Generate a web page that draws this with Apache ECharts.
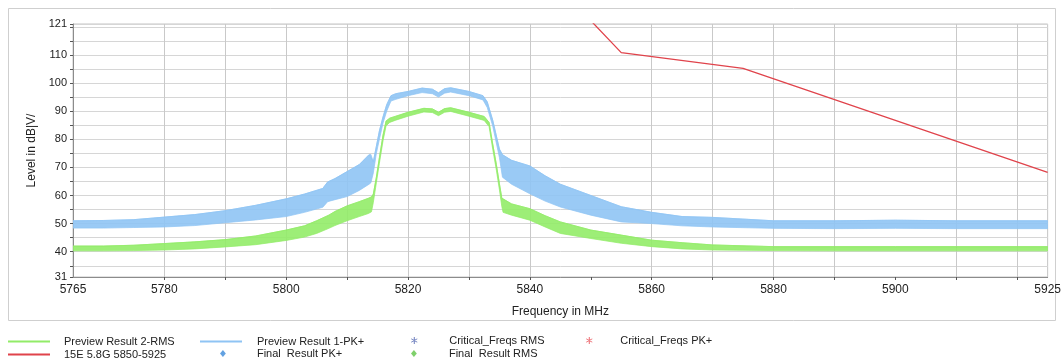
<!DOCTYPE html>
<html><head><meta charset="utf-8">
<script src="https://cdn.jsdelivr.net/npm/echarts@6/dist/echarts.min.js"></script>
<style>html,body{margin:0;padding:0;background:#fff}#c{width:1064px;height:363px}</style>
</head><body><div id="c"></div>
<script>
// Preview Result 1-PK+ : envelope (lower / upper)
const pkFreq = [5765,5770,5775,5780,5785,5790,5795,5800,5803,5806,5806.8,5808,5810,5812,5813.6,5813.9,5814.3,5814.8,5815.3,5815.9,5816.5,5817.2,5818,5820,5822.3,5824,5825,5826,5827,5830,5832.3,5833,5833.9,5835,5835.5,5837,5840,5842.5,5845,5850,5855,5860,5865,5870,5880,5890,5900,5910,5925];
const pkLow  = [48.4,48.4,48.6,48.8,49.3,50.3,51.3,52.5,54.0,55.8,57.8,58.5,59.6,61.8,64.0,64.5,68.0,75.0,80.0,85.8,90.0,93.6,94.2,95.5,96.6,96.2,95.0,96.4,96.8,95.5,94.0,91.3,84.7,73.5,66.5,64.0,60.6,58.0,55.9,53.0,50.6,50.0,49.2,48.8,48.3,48.2,48.3,48.2,48.2];
const pkHigh = [51.0,51.1,51.4,52.3,53.2,54.6,56.5,58.8,60.5,62.5,64.8,66.0,68.5,71.0,74.5,74.6,72.0,77.5,83.0,88.0,92.3,95.5,96.2,97.0,98.2,97.8,96.5,98.0,98.3,97.0,95.5,93.3,86.8,76.5,74.5,72.5,70.5,67.0,64.0,60.0,56.0,54.0,52.5,52.2,51.0,51.0,51.2,51.0,51.0];
// Preview Result 2-RMS : envelope (lower / upper)
const rmsFreq = [5765,5770,5775,5780,5785,5790,5795,5800,5803,5805,5807,5808,5810,5812,5813.5,5814.0,5814.3,5814.8,5815.3,5815.9,5816.4,5817,5818,5820,5822.6,5824,5825,5826,5827,5830,5832.5,5833.3,5833.9,5834.5,5835,5835.4,5835.6,5837,5840,5842.5,5845,5850,5855,5860,5865,5870,5880,5890,5900,5910,5925];
const rmsLow  = [40.3,40.3,40.4,40.6,41.0,41.7,42.5,44.0,45.2,46.5,48.3,49.3,51.0,52.5,53.6,54.2,57.5,64.5,71.5,79.5,84.8,86.0,86.8,88.2,89.7,89.5,88.4,89.6,89.9,88.2,86.7,84.5,76.5,69.0,62.0,56.0,54.0,53.0,51.2,48.8,46.5,44.7,43.0,41.8,41.0,40.6,40.4,40.3,40.3,40.3,40.3];
const rmsHigh = [42.0,42.0,42.3,42.9,43.5,44.3,45.6,47.7,49.2,51.0,53.0,54.3,56.3,57.8,59.0,59.5,60.5,66.5,73.5,81.5,86.5,87.5,88.2,89.6,91.0,90.8,89.6,90.9,91.2,89.6,88.1,86.0,78.3,71.0,64.2,59.0,58.8,57.0,55.3,52.8,50.6,47.7,45.9,44.1,43.2,42.4,41.8,41.8,41.8,41.8,41.8];
// Limit line 15E 5.8G 5850-5925
const limitFreq  = [5850,5855,5875,5925];
const limitLevel = [122.2,110.8,105.2,68.2];
// Axis ticks / labels
const xTickValues  = [5780,5790,5800,5810,5820,5830,5840,5850,5860,5870,5880,5890,5900,5910,5920];
const xLabelValues = [5765,5780,5800,5820,5840,5860,5880,5900,5925];
const yTickValues  = [31,35,40,45,50,55,60,65,70,75,80,85,90,95,100,105,110,115,120,121];
const yLabelValues = [31,40,50,60,70,80,90,100,110,121];

const FONT = 'Liberation Sans, Arial, sans-serif';
const GREEN = '#92ec68', BLUE = '#8fc4f4', RED = '#e0434b';

function band(name, f, lo, hi, color) {
  return {
    type: 'custom', name: name, coordinateSystem: 'cartesian2d', silent: true, clip: true, z: 2,
    color: color, itemStyle: { color: color },
    data: f.map((v, i) => [v, lo[i], hi[i]]),
    encode: { x: 0, y: [1, 2] },
    renderItem: function (params, api) {
      if (params.dataIndexInside !== 0) return null;
      const n = params.dataInsideLength, pts = [];
      for (let i = 0; i < n; i++) pts.push(api.coord([api.value(0, i), api.value(2, i)]));
      for (let i = n - 1; i >= 0; i--) pts.push(api.coord([api.value(0, i), api.value(1, i)]));
      return { type: 'polygon', shape: { points: pts }, style: { fill: color, stroke: color, lineWidth: 0.8, opacity: 0.9 } };
    }
  };
}
// upper-edge trace of a band, drawn as a normal line series (also gives the legend its line icon)
function edge(name, f, hi, color) {
  return { type: 'line', name: name, data: f.map((v, i) => [v, hi[i]]), symbol: 'none', clip: true, z: 3,
    color: color, itemStyle: { color: color }, lineStyle: { color: color, width: 0.8, opacity: 0.9 } };
}

const ASTER = 'path://M-0.6,-5L0.6,-5L0.6,5L-0.6,5Z M4.03,3.02L4.63,1.98L-4.03,-3.02L-4.63,-1.98Z M4.63,-1.98L4.03,-3.02L-4.63,1.98L-4.03,3.02Z';
const DIAM = 'path://M0,-3L2.5,0L0,3L-2.5,0Z';
const LINEICON = 'path://M0,0H42V2H0Z';

function leg(name, left, top, pad, ih, lineColor) {
  const item = lineColor ? { name: name, icon: LINEICON, itemStyle: { color: lineColor, opacity: 1 } } : name;
  return {
    data: [item], left: left, top: top, padding: 0, itemWidth: 42, itemHeight: ih,
    selectedMode: false, orient: 'horizontal',
    textStyle: { fontFamily: FONT, fontSize: 11, color: '#222', padding: [0, 0, 0, pad] }
  };
}

const xSplitColors = xTickValues.map(v => (v === 5850 || v === 5900) ? 'rgba(0,0,0,0)' : '#c9c9c9');

const option = {
  animation: false,
  backgroundColor: '#fff',
  grid: { left: 73, right: 15, top: 24, bottom: 86, show: true, borderColor: '#c4c4c4', borderWidth: 1 },
  graphic: [{ type: 'rect', shape: { x: 8.5, y: 8.5, width: 1047, height: 312 }, style: { fill: 'none', stroke: '#cfcfcf', lineWidth: 1 }, silent: true, z: -10 }],
  xAxis: {
    type: 'value', min: 5765, max: 5925,
    name: 'Frequency in MHz', nameLocation: 'middle', nameGap: 29,
    nameTextStyle: { fontFamily: FONT, fontSize: 12, color: '#222' },
    axisLine: { show: true, lineStyle: { color: '#8c8c8c', width: 1 } },
    axisTick: { show: true, customValues: xTickValues, length: 3, lineStyle: { color: '#555' } },
    axisLabel: { customValues: xLabelValues, formatter: v => String(v), fontFamily: FONT, fontSize: 12, color: '#222', margin: 7 },
    splitLine: { show: true, lineStyle: { color: xSplitColors, width: 1 } }
  },
  yAxis: {
    type: 'value', min: 31, max: 121,
    name: 'Level in dB|V/', nameLocation: 'middle', nameGap: 35, nameRotate: 90,
    nameTextStyle: { fontFamily: FONT, fontSize: 12, color: '#222' },
    axisLine: { show: true, lineStyle: { color: '#8c8c8c', width: 1 } },
    axisTick: { show: true, customValues: yTickValues, length: 3, lineStyle: { color: '#555' } },
    axisLabel: { customValues: yLabelValues, formatter: v => String(v), fontFamily: FONT, fontSize: 11, color: '#222', margin: 6 },
    splitLine: { show: true, lineStyle: { color: '#d6d6d6', width: 1 } }
  },
  legend: [
    leg('Preview Result 2-RMS', 8, 336, 9, 10, GREEN),
    leg('15E 5.8G 5850-5925', 8, 349, 9, 10, RED),
    leg('Preview Result 1-PK+', 200, 336, 10, 10, BLUE),
    leg('Final  Result PK+', 220, 348, 8, 7),
    leg('Critical_Freqs RMS', 411, 335, 9, 7),
    leg('Final  Result RMS', 411, 348, 9, 7),
    leg('Critical_Freqs PK+', 586, 335, 5, 7)
  ],
  series: [
    edge('Preview Result 2-RMS', rmsFreq, rmsHigh, GREEN),
    edge('Preview Result 1-PK+', pkFreq, pkHigh, BLUE),
    band('pkBand', pkFreq, pkLow, pkHigh, BLUE),
    band('rmsBand', rmsFreq, rmsLow, rmsHigh, GREEN),
    { type: 'line', name: '15E 5.8G 5850-5925', data: limitFreq.map((f, i) => [f, limitLevel[i]]), symbol: 'none', clip: true, z: 5,
      color: RED, itemStyle: { color: RED }, lineStyle: { color: RED, width: 1.3 } },
    { type: 'scatter', name: 'Critical_Freqs RMS', data: [], symbol: ASTER, symbolKeepAspect: true, color: '#27409e' },
    { type: 'scatter', name: 'Critical_Freqs PK+', data: [], symbol: ASTER, symbolKeepAspect: true, color: '#e3262e' },
    { type: 'scatter', name: 'Final  Result PK+', data: [], symbol: DIAM, symbolKeepAspect: true, color: '#3b8ad9' },
    { type: 'scatter', name: 'Final  Result RMS', data: [], symbol: DIAM, symbolKeepAspect: true, color: '#5fc446' }
  ]
};
const chart = echarts.init(document.getElementById('c'), null, { renderer: 'canvas' });
chart.setOption(option);
</script>
</body></html>
